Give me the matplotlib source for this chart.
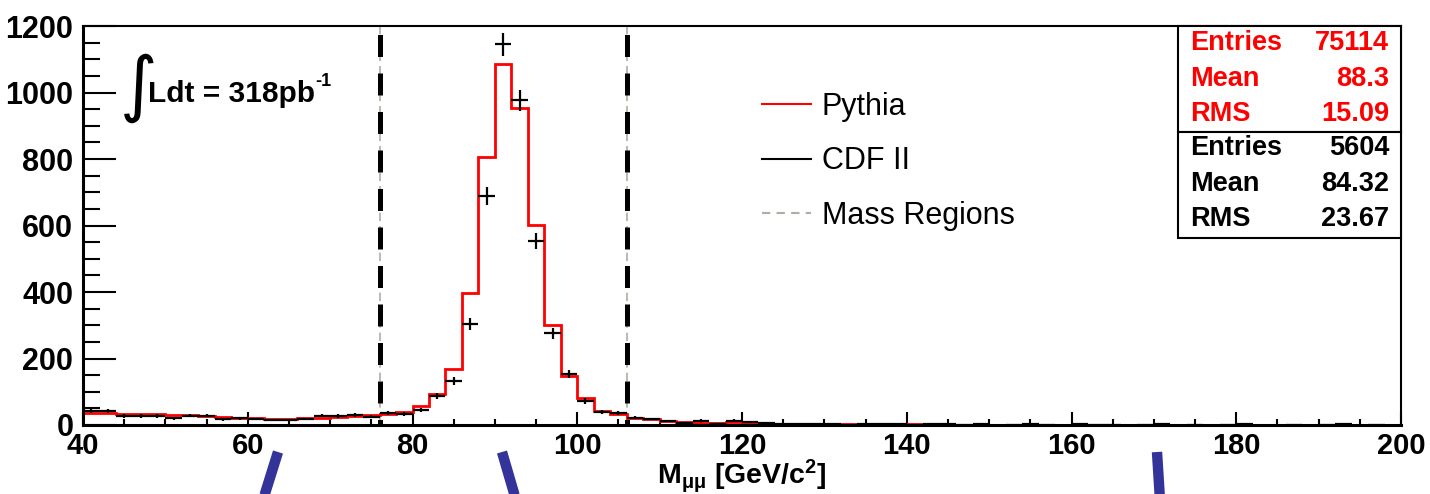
import numpy as np
import matplotlib
matplotlib.use("Agg")
import matplotlib.pyplot as plt
from matplotlib.lines import Line2D
from matplotlib.patches import Rectangle
from matplotlib.ticker import MultipleLocator

plt.rcParams["font.family"] = ["Liberation Sans", "DejaVu Sans"]
plt.rcParams["mathtext.fontset"] = "custom"
plt.rcParams["mathtext.rm"] = "Liberation Sans"
plt.rcParams["mathtext.bf"] = "Liberation Sans:bold"
plt.rcParams["mathtext.it"] = "Liberation Sans:italic"
plt.rcParams["mathtext.default"] = "bf"

# histogram binning: 2 GeV bins from 40 to 200
edges = np.arange(40, 202, 2)

# Pythia (normalised to data)
pythia = [37, 36, 33, 33, 32, 29, 29, 28, 24, 22, 20, 19, 19, 20, 21, 25, 27, 29,
          33, 39, 58, 92, 169, 398, 805, 1086, 952, 603, 300, 148, 80, 43, 32,
          22, 18, 12, 8, 7, 6, 8, 6, 4,
          4, 3, 3, 3, 2, 3, 3, 2, 2, 2, 1, 1, 1, 1, 1, 1, 1, 1, 1, 1,
          1, 1, 1, 1, 1, 1, 1, 1, 1, 1, 1, 1, 1, 1, 1, 1, 1, 1]

# CDF II data
cdf = [43, 41, 27, 27, 27, 20, 28, 28, 17, 20, 18, 15, 15, 18, 28, 27, 30, 25,
       35, 33, 45, 87, 133, 303, 689, 1145, 977, 553, 276, 153, 73, 40, 35,
       22, 18, 12, 6, 11, 4, 13, 8, 5,
       3, 2, 4, 2, 1, 3, 4, 2, 1, 3, 2, 1, 2, 0, 1, 3, 1, 0, 2, 1,
       1, 0, 1, 2, 0, 1, 0, 1, 2, 0, 0, 1, 0, 1, 2, 0, 1, 0]

mass_cuts = [76, 106]

stats_pythia = [("Entries", "75114"), ("Mean", "88.3"), ("RMS", "15.09")]
stats_cdf = [("Entries", "5604"), ("Mean", "84.32"), ("RMS", "23.67")]

W, H = 1430, 494
fig = plt.figure(figsize=(W / 100, H / 100), dpi=100)
ax = fig.add_axes([83 / W, 1 - 425 / H, (1401 - 83) / W, (425 - 26) / H])

def fx(px):
    return px / W

def fy(py):
    return 1 - py / H

# mass region lines (thin grey dashed under thick black dashed)
for m in mass_cuts:
    ax.plot([m, m], [1200, 0], color="#b4aca4", lw=1.2, ls=(0, (5, 3)), zorder=1)
    ax.plot([m, m], [1200, 0], color="black", lw=3.6, ls=(6.0, (4.4, 3.3)), zorder=1.5)

ax.stairs(pythia, edges, baseline=None, color="red", lw=2, zorder=2)

cdf = np.array(cdf, dtype=float)
centers = 0.5 * (edges[:-1] + edges[1:])
keep = cdf > 0
ax.errorbar(centers[keep], cdf[keep], xerr=1.0, yerr=np.sqrt(cdf[keep]),
            fmt="none", ecolor="black", elinewidth=1.6, capsize=0, zorder=3)

ax.set_xlim(40, 200)
ax.set_ylim(0, 1200)
ax.xaxis.set_major_locator(MultipleLocator(20))
ax.xaxis.set_minor_locator(MultipleLocator(5))
ax.yaxis.set_major_locator(MultipleLocator(200))
ax.yaxis.set_minor_locator(MultipleLocator(50))

ax.tick_params(axis="y", which="major", direction="in", length=24, width=1.5,
               labelsize=22, pad=7)
ax.tick_params(axis="y", which="minor", direction="in", length=12, width=1.5)
ax.tick_params(axis="x", which="major", direction="in", length=9.4, width=1.5,
               labelsize=21, pad=5)
ax.tick_params(axis="x", which="minor", direction="in", length=4.5, width=1.5)
for lab in ax.get_yticklabels():
    lab.set_fontweight("bold")
for lab in ax.get_xticklabels():
    lab.set_fontweight("bold")

ax.spines["left"].set_linewidth(2.2)
ax.spines["bottom"].set_linewidth(2.2)
ax.spines["top"].set_linewidth(1.5)
ax.spines["right"].set_linewidth(1.5)

ax.set_xlabel(r"M$_{\mu\mu}$ [GeV/c$^{2}$]", fontsize=20.5, fontweight="bold")
ax.xaxis.set_label_coords(0.5, -0.082)

# luminosity
fig.text(fx(120), fy(88), "\u222b", fontsize=52, family="DejaVu Sans",
         va="center", ha="left")
fig.text(fx(148), fy(102), "Ldt = 318pb", fontsize=21.5,
         fontweight="bold", va="baseline", ha="left")
fig.text(fx(315), fy(86), "-1", fontsize=13,
         fontweight="bold", va="baseline", ha="left")

# legend
handles = [Line2D([], [], color="red", lw=1.5),
           Line2D([], [], color="black", lw=1.5),
           Line2D([], [], color="#b4aca4", lw=1.5, ls=(0, (4, 3)))]
ax.legend(handles, ["Pythia", "CDF II", "Mass Regions"], loc="upper left",
          bbox_to_anchor=(fx(762), fy(92)), bbox_transform=fig.transFigure,
          frameon=False, fontsize=22, borderpad=0, borderaxespad=0,
          handlelength=1.6, handletextpad=0.35, labelspacing=0.8)

# stats boxes
bx0, bx1 = 1178, 1401
fig.add_artist(Rectangle((fx(bx0), fy(132)), fx(bx1) - fx(bx0), fy(26) - fy(132),
                         transform=fig.transFigure, fill=True, facecolor="white",
                         edgecolor="black", lw=1.5, zorder=5))
fig.add_artist(Rectangle((fx(bx0), fy(238)), fx(bx1) - fx(bx0), fy(132) - fy(238),
                         transform=fig.transFigure, fill=True, facecolor="white",
                         edgecolor="black", lw=1.5, zorder=5))
for i, (k, v) in enumerate(stats_pythia):
    y = 43 + i * 35.5
    fig.text(fx(1190), fy(y), k, color="red", fontsize=19.5, fontweight="bold",
             va="center", ha="left", zorder=6)
    fig.text(fx(1389), fy(y), v, color="red", fontsize=19.5, fontweight="bold",
             va="center", ha="right", zorder=6)
for i, (k, v) in enumerate(stats_cdf):
    y = 148 + i * 35.5
    fig.text(fx(1190), fy(y), k, color="black", fontsize=19.5, fontweight="bold",
             va="center", ha="left", zorder=6)
    fig.text(fx(1389), fy(y), v, color="black", fontsize=19.5, fontweight="bold",
             va="center", ha="right", zorder=6)

# blue strokes from overlaid annotation below the axis
for (x0, y0, x1, y1) in [(278, 452, 263, 500), (502, 452, 516, 500), (1157, 452, 1160, 500)]:
    fig.add_artist(Line2D([fx(x0), fx(x1)], [fy(y0), fy(y1)], transform=fig.transFigure,
                          color="#333399", lw=7.5, solid_capstyle="butt"))

fig.savefig("out.png", dpi=100)
